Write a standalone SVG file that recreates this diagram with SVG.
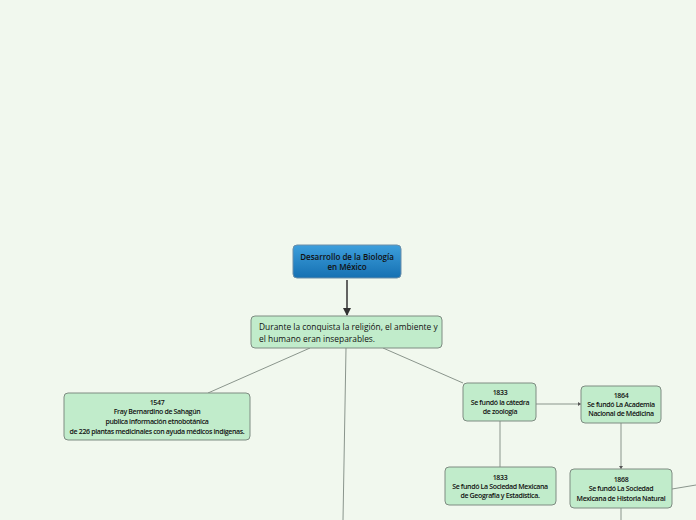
<svg xmlns="http://www.w3.org/2000/svg" width="696" height="520" viewBox="0 0 696 520">
<defs>
<linearGradient id="blue" x1="0" y1="0" x2="0" y2="1">
<stop offset="0" stop-color="#3d9fdc"/>
<stop offset="1" stop-color="#1570b2"/>
</linearGradient>
<marker id="arr" markerWidth="8" markerHeight="8" refX="7" refY="4" orient="auto" markerUnits="userSpaceOnUse">
<path d="M0,0 L8,4 L0,8 Z" fill="#333"/>
</marker>
<marker id="arrs" markerWidth="3" markerHeight="4" refX="3" refY="2" orient="auto" markerUnits="userSpaceOnUse">
<path d="M0,0 L3,2 L0,4 Z" fill="#555"/>
</marker>
</defs>
<style>
.n{fill:#c1eccb;stroke:#7f8c82;stroke-width:1}
.t{font-family:"Open Sans","Noto Sans",sans-serif;fill:#111}
.s{font-size:7px;text-anchor:middle;letter-spacing:-0.35px;font-weight:600}
.c{stroke:#8a958c;stroke-width:1;fill:none}
</style>
<rect width="696" height="520" fill="#f1f8ee"/>
<g id="connectors">
<line x1="347" y1="280" x2="347" y2="315" stroke="#333" stroke-width="1.5" marker-end="url(#arr)"/>
<line class="c" x1="310" y1="348" x2="208" y2="393"/>
<line class="c" x1="346" y1="348" x2="343" y2="520"/>
<line class="c" x1="383" y1="348" x2="463" y2="383"/>
<line class="c" x1="536" y1="404" x2="581" y2="404" marker-end="url(#arrs)"/>
<line class="c" x1="500" y1="421" x2="500" y2="467"/>
<line class="c" x1="621" y1="423" x2="621" y2="469" marker-end="url(#arrs)"/>
<line class="c" x1="672" y1="489" x2="696" y2="485"/>
<line class="c" x1="621" y1="508" x2="621" y2="520"/>
</g>
<g id="root">
<rect x="293" y="245" width="108" height="33" rx="4" fill="url(#blue)" stroke="#6a8ea8"/>
<text class="t" x="347" y="260" font-size="8" font-weight="600" text-anchor="middle">Desarrollo de la Biología</text>
<text class="t" x="347" y="270" font-size="8" font-weight="600" text-anchor="middle">en México</text>
</g>
<g id="n-conquista">
<rect class="n" x="251" y="316" width="191" height="32" rx="4"/>
<text class="t" x="259" y="330" font-size="8.4" font-weight="500">Durante la conquista la religión, el ambiente y</text>
<text class="t" x="259" y="342" font-size="8.4" font-weight="500">el humano eran inseparables.</text>
</g>
<g id="n-1547">
<rect class="n" x="64" y="393" width="186" height="47" rx="4"/>
<text class="t s" x="157" y="405">1547</text>
<text class="t s" x="157" y="414">Fray Bernardino de Sahagún</text>
<text class="t s" x="157" y="424">publica información  etnobotánica</text>
<text class="t s" x="157" y="434">de 226 plantas medicinales con ayuda médicos indígenas.</text>
</g>
<g id="n-1833a">
<rect class="n" x="463" y="383" width="73" height="38" rx="4"/>
<text class="t s" x="500" y="395">1833</text>
<text class="t s" x="500" y="405">Se fundó la cátedra</text>
<text class="t s" x="500" y="414">de zoología</text>
</g>
<g id="n-1864">
<rect class="n" x="581" y="386" width="80" height="37" rx="4"/>
<text class="t s" x="621" y="398">1864</text>
<text class="t s" x="621" y="407">Se fundó La Academia</text>
<text class="t s" x="621" y="416">Nacional de Médicina</text>
</g>
<g id="n-1833b">
<rect class="n" x="445" y="467" width="111" height="38" rx="4"/>
<text class="t s" x="500" y="480">1833</text>
<text class="t s" x="500" y="489">Se fundó La Sociedad Mexicana</text>
<text class="t s" x="500" y="498">de Geografía y Estadística.</text>
</g>
<g id="n-1868">
<rect class="n" x="570" y="469" width="102" height="39" rx="4"/>
<text class="t s" x="621" y="482">1868</text>
<text class="t s" x="621" y="491">Se fundó  La Sociedad</text>
<text class="t s" x="621" y="501">Mexicana de Historia Natural</text>
</g>
</svg>
